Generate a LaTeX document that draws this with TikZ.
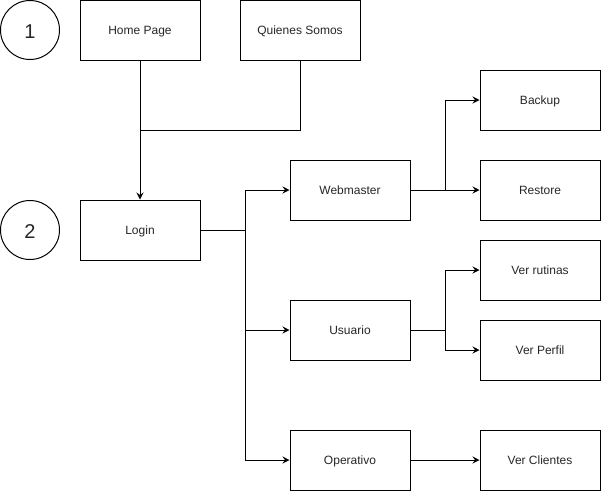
\documentclass[tikz,border=0pt]{standalone}
\usepackage{fontspec}
\setmainfont{Liberation Sans}
\usetikzlibrary{arrows.meta}
\begin{document}
\begin{tikzpicture}[x=1pt,y=-1pt,
  box/.style={draw,line width=1pt,minimum width=120pt,minimum height=60pt,inner sep=0pt,text height=9.4pt,text depth=0pt,font=\fontsize{12}{14}\selectfont,text=black!85},
  stage/.style={draw,circle,line width=1pt,minimum size=59pt,inner sep=0pt,text height=16pt,text depth=0pt,font=\fontsize{20}{24}\selectfont,text=black!85},
  link/.style={line width=1pt},
  arr/.style={line width=1pt,-{Stealth[length=7pt,width=7pt,inset=2.5pt]}}]
\useasboundingbox (0,0) rectangle (601,491);
% stage markers
\node[stage] (s1) at (30,30) {1};
\node[stage] (s2) at (30,230) {2};
% pages
\node[box] (home) at (140,30) {Home Page};
\node[box] (quien) at (300,30) {Quienes Somos};
\node[box] (login) at (140,230) {Login};
\node[box] (web) at (350,190) {Webmaster};
\node[box] (usr) at (350,330) {Usuario};
\node[box] (ope) at (350,460) {Operativo};
\node[box] (back) at (540,100) {Backup};
\node[box] (rest) at (540,190) {Restore};
\node[box] (rut) at (540,270) {Ver rutinas};
\node[box] (perf) at (540,350) {Ver Perfil};
\node[box] (cli) at (540,460) {Ver Clientes};
% junction points
\coordinate (j1) at (140,130);
\coordinate (j2) at (245,230);
\coordinate (j3) at (445,190);
\coordinate (j4) at (445,330);
% top level to login
\draw[arr] (home.south) -- (login.north);
\draw[link] (quien.south) |- (j1);
% login to roles
\draw[link] (login.east) -- (j2);
\draw[arr] (j2) |- (web.west);
\draw[arr] (j2) |- (usr.west);
\draw[arr] (j2) |- (ope.west);
% webmaster actions
\draw[arr] (web.east) -- (rest.west);
\draw[arr] (j3) |- (back.west);
% usuario actions
\draw[link] (usr.east) -- (j4);
\draw[arr] (j4) |- (rut.west);
\draw[arr] (j4) |- (perf.west);
% operativo action
\draw[arr] (ope.east) -- (cli.west);
\end{tikzpicture}
\end{document}
